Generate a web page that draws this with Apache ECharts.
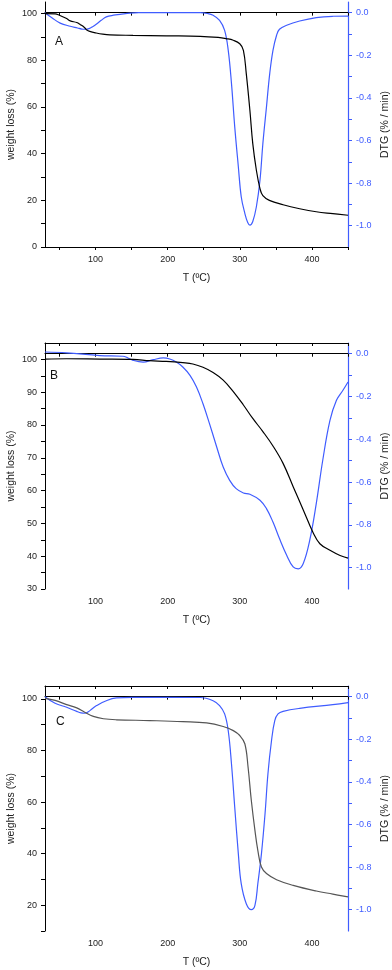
<!DOCTYPE html>
<html>
<head>
<meta charset="utf-8">
<title>TGA / DTG</title>
<script src="https://cdn.jsdelivr.net/npm/echarts@6/dist/echarts.min.js"></script>
<style>
  html, body { margin: 0; padding: 0; background: #fff; }
  #chart { width: 392px; height: 970px; }
</style>
</head>
<body>
<div id="chart"></div>
<script>
// ---- panel A ----
const aWeightT = [30, 44, 50, 60, 65, 74, 79, 85, 88, 92, 101, 110, 120, 152, 198, 245, 270, 281, 291, 300, 305, 309, 314, 318, 323, 328, 332, 341, 360, 383, 406, 429, 450];
const aWeight = [100, 99.9, 99.3, 97.9, 96.9, 96.2, 95.3, 94, 93, 92.4, 91.7, 91.2, 90.9, 90.7, 90.5, 90.3, 89.8, 89.3, 88.6, 87.1, 84.3, 74.3, 58.6, 44.3, 32.9, 25, 22, 20, 18.1, 16.4, 15.1, 14.3, 13.6];
const aDtgT = [30, 40, 51, 65, 75, 81, 86, 91, 96, 102, 108, 115, 125, 134, 148, 160, 245, 255, 263, 272, 279, 284, 288.5, 293, 298, 302, 307, 311, 314, 318, 323, 328, 332, 337, 341.5, 346, 351, 355, 365, 383, 406, 429, 450];
const aDtg = [0, -0.025, -0.049, -0.064, -0.072, -0.077, -0.078, -0.075, -0.066, -0.052, -0.036, -0.02, -0.012, -0.008, -0.002, 0, 0, -0.004, -0.0125, -0.036, -0.083, -0.177, -0.333, -0.536, -0.723, -0.864, -0.942, -0.985, -0.997, -0.98, -0.911, -0.786, -0.614, -0.442, -0.286, -0.177, -0.106, -0.078, -0.059, -0.039, -0.023, -0.017, -0.016];

// ---- panel B ----
const bWeightT = [30, 60, 106, 152, 175, 198, 221, 235, 249, 263, 277, 291, 305, 318, 332, 346, 360, 374, 388, 402, 411, 425, 439, 450];
const bWeight = [100.1, 100.2, 100.1, 100, 99.6, 99.4, 99.0, 98.6, 97.6, 96.0, 93.7, 90.2, 86.1, 82.0, 78.0, 73.6, 68.3, 61.2, 54.1, 47.0, 43.8, 41.8, 40.2, 39.4];
const bDtgT = [30, 60, 106, 138, 145, 152, 166, 180, 194, 203, 212, 221, 231, 240, 249, 258, 268, 277, 286, 295, 305, 314, 328, 337, 346, 355, 365, 374, 381, 388, 397, 406, 415, 425, 434, 443, 450];
const bDtg = [0.008, 0.004, -0.009, -0.012, -0.02, -0.031, -0.039, -0.028, -0.02, -0.025, -0.039, -0.062, -0.101, -0.156, -0.234, -0.327, -0.436, -0.53, -0.592, -0.631, -0.651, -0.657, -0.685, -0.724, -0.787, -0.864, -0.942, -0.997, -1.006, -0.981, -0.872, -0.701, -0.498, -0.312, -0.218, -0.171, -0.132];

// ---- panel C ----
const cWeightT = [30, 44, 60, 74, 85, 97, 111, 129, 175, 221, 254, 277, 291, 300, 307, 311.5, 316, 321, 325, 330, 337, 351, 374, 406, 429, 450];
const cWeight = [100.2, 99.4, 97.8, 96.5, 94.8, 93.2, 92.3, 91.9, 91.6, 91.2, 90.7, 89.3, 87.7, 85.8, 82.6, 73.5, 60.6, 49, 41.3, 34.8, 32.3, 29.9, 27.7, 25.5, 24.3, 23.2];
const cDtgT = [30, 44, 60, 74, 80, 85, 90, 95, 101.5, 115, 129, 152, 245, 263, 272, 279, 284, 288.5, 293, 298, 302, 309, 316, 321, 325, 330, 335, 339, 344, 348.5, 353, 360, 383, 429, 450];
const cDtg = [0, -0.031, -0.05, -0.069, -0.076, -0.078, -0.071, -0.058, -0.042, -0.019, -0.006, -0.003, -0.004, -0.019, -0.042, -0.081, -0.16, -0.316, -0.519, -0.738, -0.878, -0.972, -1.0, -0.98, -0.878, -0.738, -0.55, -0.363, -0.206, -0.1125, -0.081, -0.069, -0.055, -0.0375, -0.028];

// axis ticks / labels
const tTicks = [50, 100, 150, 200, 250, 300, 350, 400, 450];
const tLabels = [100, 200, 300, 400];
const aWeightTicks = [0, 10, 20, 30, 40, 50, 60, 70, 80, 90, 100];
const aWeightLabels = [0, 20, 40, 60, 80, 100];
const bWeightTicks = [30, 35, 40, 45, 50, 55, 60, 65, 70, 75, 80, 85, 90, 95, 100];
const bWeightLabels = [30, 40, 50, 60, 70, 80, 90, 100];
const cWeightTicks = [10, 20, 30, 40, 50, 60, 70, 80, 90, 100];
const cWeightLabels = [20, 40, 60, 80, 100];
const dtgTicks = [0, -0.1, -0.2, -0.3, -0.4, -0.5, -0.6, -0.7, -0.8, -0.9, -1.0];
const dtgLabels = [0, -0.2, -0.4, -0.6, -0.8, -1.0];

const panelNames = ['A', 'B', 'C'];

const BLUE = '#3f5cff';
const FONT = 'Liberation Sans, Arial, sans-serif';

const zip = (xs, ys) => xs.map((x, i) => [x, ys[i]]);

// panel layout (pixel positions), labels may sit outside the grid
const grids = [
  { left: 45, width: 303, top: 2, height: 245, outerBoundsMode: 'none', containLabel: false },
  { left: 45, width: 303, top: 343, height: 246, outerBoundsMode: 'none', containLabel: false },
  { left: 45, width: 303, top: 686, height: 245, outerBoundsMode: 'none', containLabel: false },
];
const weightRange = [[0, 105], [30, 105], [10, 105]];
const weightTicks = [aWeightTicks, bWeightTicks, cWeightTicks];
const weightLabels = [aWeightLabels, bWeightLabels, cWeightLabels];
const weightData = [zip(aWeightT, aWeight), zip(bWeightT, bWeight), zip(cWeightT, cWeight)];
const dtgData = [zip(aDtgT, aDtg), zip(bDtgT, bDtg), zip(cDtgT, cDtg)];
const weightColor = ['#000', '#000', '#555'];

let xAxis = [], yAxis = [], series = [], graphic = [];

grids.forEach((g, i) => {
  // bottom T axis
  xAxis.push({
    type: 'value', gridIndex: i, min: 30, max: 450, position: 'bottom',
    name: 'T (ºC)', nameLocation: 'middle', nameGap: 26, nameMoveOverlap: false,
    nameTextStyle: { fontSize: 10.5, color: '#222', fontFamily: FONT },
    axisLine: { lineStyle: { color: '#000', width: 1 } },
    axisTick: { show: true, inside: false, length: 3, customValues: tTicks, lineStyle: { color: '#000' } },
    axisLabel: { customValues: tLabels, fontSize: 9, color: '#222', margin: 8, fontFamily: FONT },
    splitLine: { show: false },
  });
  // top frame with inner ticks
  xAxis.push({
    type: 'value', gridIndex: i, min: 30, max: 450, position: 'top',
    axisLine: { lineStyle: { color: '#000', width: 1 } },
    axisTick: { show: true, inside: true, length: 3, customValues: tTicks, lineStyle: { color: '#000' } },
    axisLabel: { show: false },
    splitLine: { show: false },
  });
  // left weight axis
  yAxis.push({
    type: 'value', gridIndex: i, min: weightRange[i][0], max: weightRange[i][1], position: 'left',
    name: 'weight loss (%)', nameLocation: 'middle', nameGap: 28, nameRotate: 90, nameMoveOverlap: false,
    nameTextStyle: { fontSize: 10.5, color: '#222', fontFamily: FONT },
    axisLine: { show: true, lineStyle: { color: '#000', width: 1 } },
    axisTick: { show: true, length: 4, customValues: weightTicks[i], lineStyle: { color: '#000' } },
    axisLabel: { customValues: weightLabels[i], fontSize: 9, color: '#222', margin: 8, fontFamily: FONT },
    splitLine: { show: false },
  });
  // right DTG axis
  yAxis.push({
    type: 'value', gridIndex: i, min: -1.1, max: 0.05, position: 'right',
    name: 'DTG (% / min)', nameLocation: 'middle', nameGap: 32, nameRotate: 90, nameMoveOverlap: false,
    nameTextStyle: { fontSize: 10.5, color: '#222', fontFamily: FONT },
    axisLine: { show: true, lineStyle: { color: BLUE, width: 1.2 } },
    axisTick: { show: true, length: 4, customValues: dtgTicks, lineStyle: { color: BLUE } },
    axisLabel: {
      customValues: dtgLabels, fontSize: 9, color: BLUE, margin: 8, fontFamily: FONT,
      formatter: (v) => Number(v).toFixed(1),
    },
    splitLine: { show: false },
  });

  series.push({
    type: 'line', xAxisIndex: i * 2, yAxisIndex: i * 2,
    data: weightData[i], showSymbol: false, smooth: 0.4,
    lineStyle: { color: weightColor[i], width: 1.2 }, z: 3,
  });
  series.push({
    type: 'line', xAxisIndex: i * 2, yAxisIndex: i * 2 + 1,
    data: dtgData[i], showSymbol: false, smooth: 0.4,
    lineStyle: { color: BLUE, width: 1.2 }, z: 2,
  });
});

// panel letters
const letterPos = [[59, 43], [54, 377], [60, 723]];
panelNames.forEach((n, i) => {
  graphic.push({
    type: 'text', left: letterPos[i][0] - 4, top: letterPos[i][1] - 7,
    style: { text: n, fontSize: 12, fill: '#111', fontFamily: FONT },
  });
});

const chart = echarts.init(document.getElementById('chart'), null, { renderer: 'canvas' });
chart.setOption({
  animation: false,
  backgroundColor: '#fff',
  grid: grids,
  xAxis: xAxis,
  yAxis: yAxis,
  series: series,
  graphic: graphic,
});
</script>
</body>
</html>
